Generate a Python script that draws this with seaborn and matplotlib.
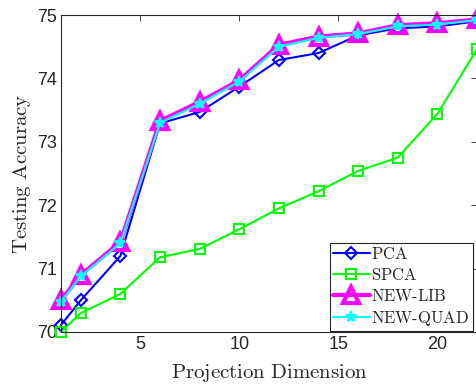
import matplotlib
matplotlib.use("Agg")
import matplotlib.pyplot as plt
import seaborn as sns
import pandas as pd

dims = [1, 2, 4, 6, 8, 10, 12, 14, 16, 18, 20, 22]
pca = [70.11, 70.50, 71.20, 73.29, 73.47, 73.87, 74.29, 74.40, 74.68, 74.79, 74.82, 74.90]
spca = [70.00, 70.30, 70.60, 71.18, 71.31, 71.62, 71.95, 72.22, 72.54, 72.75, 73.44, 74.46]
new_lib = [70.50, 70.90, 71.42, 73.33, 73.63, 73.97, 74.53, 74.66, 74.71, 74.84, 74.87, 74.93]
new_quad = [70.48, 70.88, 71.40, 73.30, 73.60, 73.95, 74.50, 74.64, 74.70, 74.82, 74.85, 74.92]

labels = ["PCA", "SPCA", "NEW-LIB", "NEW-QUAD"]
series = [pca, spca, new_lib, new_quad]

sns.set_theme(style="white")
plt.rcParams["font.family"] = ["Liberation Sans", "DejaVu Sans"]
plt.rcParams["mathtext.fontset"] = "cm"

styles = {
    "PCA": dict(color="#0000ff", marker="D", ms=6.5, lw=1.5, mew=1.5, mfc="none"),
    "SPCA": dict(color="#00ff00", marker="s", ms=7, lw=1.5, mew=1.5, mfc="none"),
    "NEW-LIB": dict(color="#ff00ff", marker="^", ms=11, lw=3, mew=3, mfc="none"),
    "NEW-QUAD": dict(color="#00ffff", marker="*", ms=8, lw=1.5, mew=1.5, mfc="#00ffff"),
}

df = pd.concat(
    [pd.DataFrame({"dim": dims, "acc": vals, "method": name}) for name, vals in zip(labels, series)],
    ignore_index=True,
)

fig = plt.figure(figsize=(4.76, 3.87), dpi=100)
ax = fig.add_axes([61 / 476, 55 / 387, 416 / 476, 317 / 387])

for name in labels:
    st = styles[name]
    sub = df[df["method"] == name]
    sns.lineplot(
        data=sub, x="dim", y="acc", ax=ax, color=st["color"], linewidth=st["lw"],
        marker=st["marker"], markersize=st["ms"], markeredgewidth=st["mew"],
        markerfacecolor=st["mfc"], markeredgecolor=st["color"], label=name,
        clip_on=False,
    )

ax.set_xlim(1, 22)
ax.set_ylim(70, 75)
ax.set_xticks([5, 10, 15, 20])
ax.set_yticks([70, 71, 72, 73, 74, 75])
ax.tick_params(direction="in", length=4, width=0.6, labelsize=13, colors="#262626",
               top=True, right=True, pad=3)
for sp in ax.spines.values():
    sp.set_color("#262626")
    sp.set_linewidth(0.8)

ax.set_xlabel(r"$\mathrm{Projection\ Dimension}$", fontsize=15, labelpad=6)
ax.set_ylabel(r"$\mathrm{Testing\ Accuracy}$", fontsize=15, labelpad=3)

leg = ax.legend(
    loc="lower right", bbox_to_anchor=(412 / 416, 0.002), prop={"size": 12},
    frameon=True, fancybox=False, edgecolor="#262626", framealpha=1,
    handlelength=2.2, handletextpad=0.1, borderpad=0.2, labelspacing=0.3, borderaxespad=0,
)
leg.get_frame().set_linewidth(0.8)
for t in leg.get_texts():
    t.set_text(r"$\mathrm{" + t.get_text().replace("-", "\\text{-}") + "}$")

fig.savefig("out.png", dpi=100)
